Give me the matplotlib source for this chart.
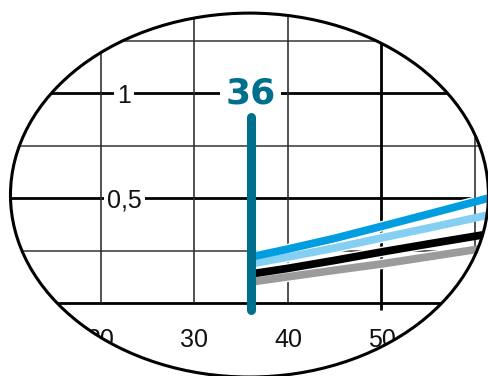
import matplotlib
matplotlib.use("Agg")
import numpy as np
import matplotlib.pyplot as plt
from matplotlib.patches import Ellipse, PathPatch
from matplotlib.path import Path

# ---- data ----
x_vals = [36, 40, 45, 50, 55, 60, 62]
blue = [0.219, 0.257, 0.308, 0.365, 0.423, 0.482, 0.507]
light_blue = [0.186, 0.219, 0.262, 0.310, 0.357, 0.405, 0.425]
black = [0.138, 0.165, 0.203, 0.243, 0.281, 0.318, 0.333]
gray = [0.100, 0.125, 0.156, 0.186, 0.220, 0.254, 0.267]
marker_x = 36
marker_label = "36"
x_ticks = [20, 30, 40, 50]
x_labels = ["20", "30", "40", "50"]
y_ticks = [0.5, 1]
y_labels = ["0,5", "1"]
v_grid = [20, 30, 40, 50, 60]
h_grid = [0, 0.25, 0.5, 0.75, 1, 1.25]

TEAL = "#006F8E"
C_BLUE = "#009EE0"
C_LBLUE = "#84CFF2"
C_BLACK = "#000000"
C_GRAY = "#9B9B9B"

XLIM = (9.20, 61.50)
YLIM = (-0.3476, 1.4429)
EC, EW, EH = (35.88, 0.514), 51.12, 1.733

fig = plt.figure(figsize=(4.89, 3.76), dpi=100)
ax = fig.add_axes([0, 0, 1, 1])
ax.set_xlim(*XLIM)
ax.set_ylim(*YLIM)
ax.axis("off")

clip = Ellipse(EC, EW, EH, transform=ax.transData,
               facecolor="none", edgecolor="none")
ax.add_patch(clip)
clip.set_visible(False)

artists = []
for v in h_grid:
    thick = v in (0, 0.5, 1)
    ln = ax.axhline(v, color="black" if thick else "#3c3c3c",
                    lw=2.0 if thick else 1.15, zorder=1)
    artists.append(ln)
for v in v_grid:
    thick = v == 50
    lo = -0.035 if thick else 0
    z = 3.5 if v == 60 else 1
    ln, = ax.plot([v, v], [lo, 2], color="black" if thick else "#2a2a2a",
                  lw=2.0 if thick else 1.15, zorder=z, solid_capstyle="butt")
    artists.append(ln)

series = [(gray, C_GRAY), (black, C_BLACK), (light_blue, C_LBLUE), (blue, C_BLUE)]
for ys, c in series:
    w, = ax.plot(x_vals, ys, color="white", lw=7.6, zorder=3,
                 solid_capstyle="butt")
    l, = ax.plot(x_vals, ys, color=c, lw=5.6, zorder=4,
                 solid_capstyle="butt")
    artists += [w, l]

m, = ax.plot([marker_x, marker_x], [-0.035, 0.885], color=TEAL, lw=6.5,
             solid_capstyle="round", zorder=6)
artists.append(m)

off = 9.5 / 210
for v, s in zip(y_ticks, y_labels):
    t = ax.text(22.5, v - off, s, ha="center", va="baseline",
                fontsize=18, family="Liberation Sans", color="#111111",
                zorder=2,
                bbox=dict(boxstyle="square,pad=0.12", fc="white", ec="none"))
    artists.append(t)
for v, s in zip(x_ticks, x_labels):
    t = ax.text(v, -0.2095, s, ha="center", va="baseline",
                fontsize=18, family="Liberation Sans", color="#111111",
                zorder=2)
    artists.append(t)

t = ax.text(marker_x, 0.952, marker_label, ha="center", va="baseline",
            fontsize=26, fontweight="bold", family="DejaVu Sans", color=TEAL,
            zorder=5,
            bbox=dict(boxstyle="square,pad=0.15", fc="white", ec="none"))
artists.append(t)

for a in artists:
    a.set_clip_path(clip)

# white mask outside the ellipse (text is not clipped by paths in Agg)
th = np.linspace(0, 2 * np.pi, 400)
ex = EC[0] + EW / 2 * np.cos(th)
ey = EC[1] + EH / 2 * np.sin(th)
x0, x1 = XLIM[0] - 5, XLIM[1] + 5
y0, y1 = YLIM[0] - 1, YLIM[1] + 1
outer = [(x0, y0), (x1, y0), (x1, y1), (x0, y1), (x0, y0)]
inner = list(zip(ex[::-1], ey[::-1]))
verts = outer + inner
codes = ([Path.MOVETO] + [Path.LINETO] * 3 + [Path.CLOSEPOLY] +
         [Path.MOVETO] + [Path.LINETO] * (len(inner) - 1))
mask = PathPatch(Path(verts, codes), facecolor="white", edgecolor="none",
                 zorder=9, transform=ax.transData, clip_on=False)
ax.add_patch(mask)

border = Ellipse(EC, EW, EH, transform=ax.transData,
                 facecolor="none", edgecolor="black", lw=2.2, zorder=10)
ax.add_patch(border)

fig.savefig("out.png", dpi=100)
